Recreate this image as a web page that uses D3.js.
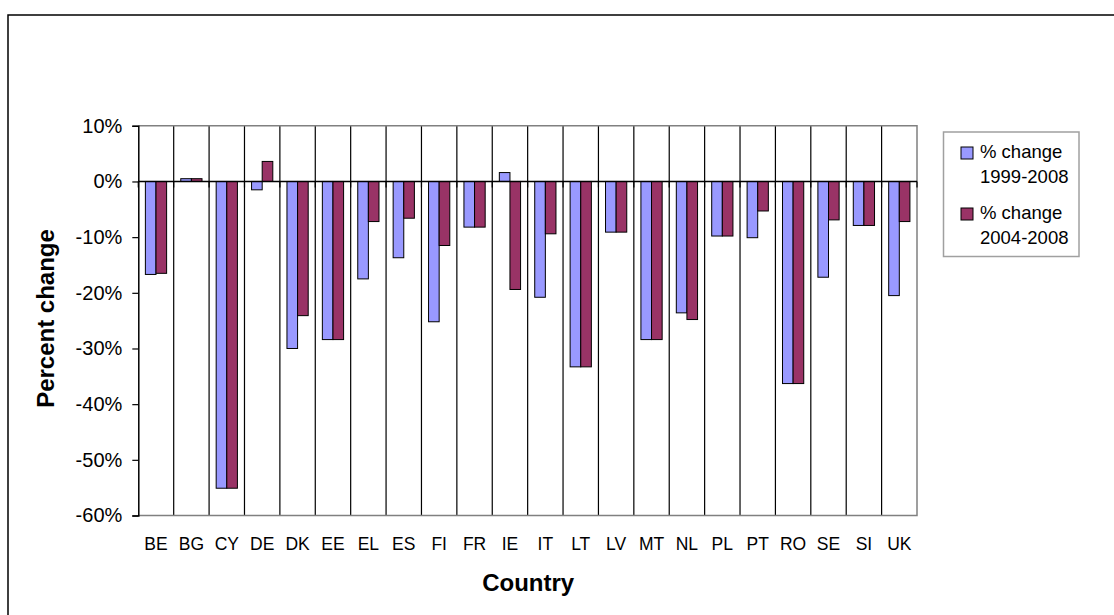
<!DOCTYPE html>
<html>
<head>
<meta charset="utf-8">
<script src="https://cdn.jsdelivr.net/npm/d3@7"></script>
<style>
  html, body { margin: 0; padding: 0; background: #fff; }
  svg { display: block; font-family: "Liberation Sans", Arial, sans-serif; }
</style>
</head>
<body>
<svg id="chart" width="1114" height="615"></svg>
<script>
const categories = ["BE","BG","CY","DE","DK","EE","EL","ES","FI","FR","IE","IT","LT","LV","MT","NL","PL","PT","RO","SE","SI","UK"];
const change1999_2008 = [-16.7,0.5,-55.1,-1.5,-30.0,-28.4,-17.5,-13.7,-25.2,-8.2,1.6,-20.8,-33.3,-9.1,-28.4,-23.6,-9.8,-10.1,-36.3,-17.2,-7.9,-20.5];
const change2004_2008 = [-16.5,0.5,-55.1,3.6,-24.1,-28.4,-7.2,-6.6,-11.5,-8.2,-19.4,-9.4,-33.3,-9.1,-28.4,-24.8,-9.8,-5.3,-36.3,-6.9,-7.9,-7.2];
const seriesNames = [["% change", "1999-2008"], ["% change", "2004-2008"]];
const seriesColors = ["#9999FF", "#993366"];
const yTicks = [10, 0, -10, -20, -30, -40, -50, -60];
const yTitle = "Percent change";
const xTitle = "Country";

const svg = d3.select("#chart");
const L = 138.3, R = 917, T = 125.8, B = 515.5;

// outer chart frame
svg.append("rect").attr("x", 8).attr("y", 15).attr("width", 1300).attr("height", 800)
  .attr("fill", "#fff").attr("stroke", "#000").attr("stroke-width", 1.5);

const x = d3.scaleBand().domain(categories).range([L, R]).paddingInner(0).paddingOuter(0);
const y = d3.scaleLinear().domain([-60, 10]).range([B, T]);
const barW = x.bandwidth() * 0.3;

const g = svg.append("g");

// vertical gridlines at category boundaries
g.selectAll("line.vgrid").data(categories.slice(1)).enter().append("line")
  .attr("x1", d => x(d)).attr("x2", d => x(d))
  .attr("y1", T).attr("y2", B).attr("stroke", "#000").attr("stroke-width", 1.2);

// plot border (gray) top, right, bottom
g.append("path").attr("d", `M${L},${T}H${R}V${B}H${L}`)
  .attr("fill", "none").attr("stroke", "#808080").attr("stroke-width", 1.5);

// bars
const series = [change1999_2008, change2004_2008];
series.forEach((vals, si) => {
  g.selectAll("rect.s" + si).data(categories).enter().append("rect")
    .attr("x", (d, i) => x(d) + x.bandwidth() / 2 - barW + si * barW)
    .attr("y", (d, i) => y(Math.max(0, vals[i])))
    .attr("width", barW)
    .attr("height", (d, i) => Math.abs(y(vals[i]) - y(0)))
    .attr("fill", seriesColors[si]).attr("stroke", "#000").attr("stroke-width", 1);
});

// zero category axis line with ticks
g.append("line").attr("x1", L).attr("x2", R).attr("y1", y(0)).attr("y2", y(0))
  .attr("stroke", "#000").attr("stroke-width", 1.5);
g.selectAll("line.xtick").data(categories.concat(["_end"])).enter().append("line")
  .attr("x1", (d, i) => L + i * x.step()).attr("x2", (d, i) => L + i * x.step())
  .attr("y1", y(0)).attr("y2", y(0) + 6).attr("stroke", "#000").attr("stroke-width", 1.2);

// y axis
const yAxis = d3.axisLeft(y).tickValues(yTicks).tickSize(6).tickPadding(10)
  .tickFormat(d => d + "%");
const ya = svg.append("g").attr("transform", `translate(${L},0)`).call(yAxis);
ya.select(".domain").attr("stroke", "#000").attr("stroke-width", 1.5);
ya.selectAll(".tick line").attr("stroke", "#000").attr("stroke-width", 1.2);
ya.selectAll(".tick text").attr("font-size", 20).attr("fill", "#000")
  .attr("font-family", "Liberation Sans, Arial, sans-serif");

// x labels
svg.selectAll("text.xlab").data(categories).enter().append("text")
  .attr("x", d => x(d) + x.bandwidth() / 2).attr("y", 550)
  .attr("text-anchor", "middle").attr("font-size", 17.5).attr("fill", "#000")
  .text(d => d);

// axis titles
svg.append("text").attr("x", (L + R) / 2 + 0.5).attr("y", 591)
  .attr("text-anchor", "middle").attr("font-size", 24).attr("font-weight", "bold")
  .text(xTitle);
svg.append("text").attr("transform", "translate(53.5,318.5) rotate(-90)")
  .attr("text-anchor", "middle").attr("font-size", 24).attr("font-weight", "bold")
  .text(yTitle);

// legend
const lg = svg.append("g");
lg.append("rect").attr("x", 943.5).attr("y", 132).attr("width", 135.5).attr("height", 124.5)
  .attr("fill", "#fff").attr("stroke", "#a0a0a0").attr("stroke-width", 1.5);
seriesNames.forEach((nm, i) => {
  const by = 158 + i * 61;
  lg.append("rect").attr("x", 961).attr("y", by - 11).attr("width", 12).attr("height", 12)
    .attr("fill", seriesColors[i]).attr("stroke", "#000").attr("stroke-width", 1);
  lg.append("text").attr("x", 980).attr("y", by).attr("font-size", 18.5).text(nm[0]);
  lg.append("text").attr("x", 980).attr("y", by + 25).attr("font-size", 18.5).text(nm[1]);
});
</script>
</body>
</html>
